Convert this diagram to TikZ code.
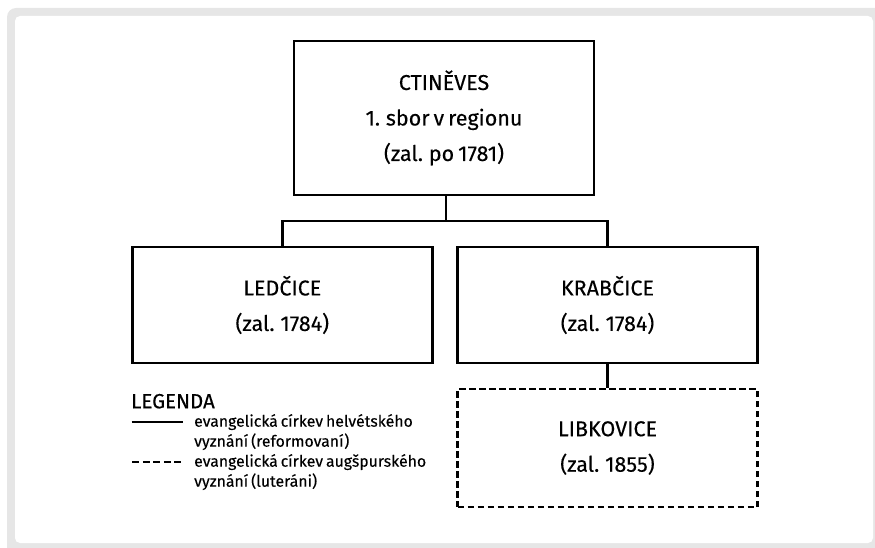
\documentclass[tikz,border=0pt]{standalone}
\usepackage{fontspec}
\setmainfont[WordSpace=0.7, FakeBold=0.2]{Fira Sans}
\definecolor{framegray}{HTML}{E6E6E6}
\tikzset{
  orgbox/.style={draw=black, line width=2.4pt, fill=white, minimum width=300pt, align=center, font=\fontsize{21.5}{35.5}\selectfont, inner sep=0pt},
  dashbox/.style={orgbox, dash pattern=on 6.5pt off 3.5pt},
  link/.style={draw=black, line width=2.4pt},
  legtext/.style={anchor=base west, inner sep=0pt, font=\fontsize{15.8}{20}\selectfont},
}
\begin{document}
\begin{tikzpicture}[x=1pt,y=-1pt]
\useasboundingbox (0,0) rectangle (875,548);
\clip (0,0) rectangle (875,548);
\fill[framegray, rounded corners=9pt] (7,8) rectangle (895,565);
\fill[white, rounded corners=5pt] (15,16) rectangle (873,543);

\node[orgbox, minimum height=154pt] (ctin) at (444,118) {CTINĚVES\\1. sbor v regionu\\(zal. po 1781)};
\node[orgbox, minimum height=116pt] (led) at (282.3,305) {LEDČICE\\(zal. 1784)};
\node[orgbox, minimum height=116pt] (krab) at (607.5,305) {KRABČICE\\(zal. 1784)};
\node[dashbox, minimum height=118pt] (lib) at (607.5,448) {LIBKOVICE\\(zal. 1855)};

\coordinate (mid) at (445.7,220.7);
\draw[link] (ctin.south -| mid) -- (mid);
\draw[link] (led.north) |- (mid) -| (krab.north);
\draw[link] (krab.south) -- (lib.north);

\node[anchor=base west, inner sep=0pt, font=\fontsize{20.5}{20}\selectfont] (legtitle) at (131,408.3) {LEGENDA};
\coordinate (s1) at (131.5,421.7);
\coordinate (s2) at (183,421.7);
\coordinate (d1) at (132.3,461.7);
\coordinate (d2) at (183,461.7);
\draw[line width=2.4pt] (s1) -- (s2);
\draw[line width=2.4pt, dash pattern=on 7pt off 3.5pt] (d1) -- (d2);
\node[legtext] (l1) at (194,426.7) {evangelická církev helvétského};
\node[legtext] (l2) at (194,446.7) {vyznání (reformovaní)};
\node[legtext] (l3) at (194,466.7) {evangelická církev augšpurského};
\node[legtext] (l4) at (194,486.7) {vyznání (luteráni)};
\end{tikzpicture}
\end{document}
